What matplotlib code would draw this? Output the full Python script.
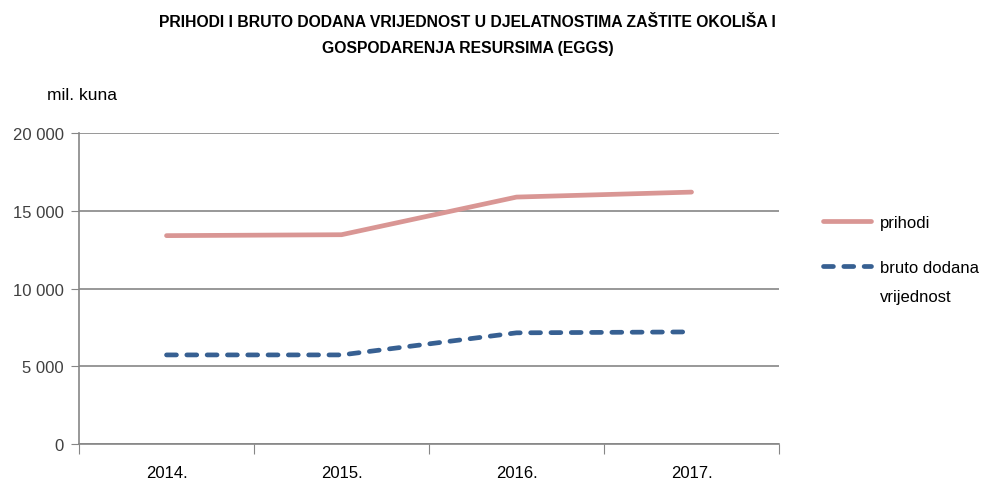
import matplotlib.pyplot as plt
from matplotlib.ticker import FuncFormatter, FixedLocator

years = ['2014.', '2015.', '2016.', '2017.']
prihodi = [13400, 13460, 15880, 16200]
bruto = [5730, 5730, 7150, 7210]

plt.rcParams['font.family'] = ['Liberation Sans', 'DejaVu Sans']

fig = plt.figure(figsize=(9.84, 4.81), dpi=100)
ax = fig.add_axes([0.0803, 0.0748, 0.7114, 0.6466])

x = list(range(len(years)))
ax.plot(x, prihodi, color='#d99694', lw=3.4, solid_capstyle='round', label='prihodi')
ax.plot(x, bruto, color='#376092', lw=3.4, ls=(0, (2.1, 2.2)), dash_capstyle='round',
        label='bruto dodana')

ax.set_xlim(-0.5, len(years) - 0.5)
ax.set_ylim(0, 20000)
ax.set_yticks(range(0, 20001, 5000))
ax.yaxis.set_major_formatter(FuncFormatter(lambda v, p: f'{int(v):,}'.replace(',', ' ')))
ax.xaxis.set_major_locator(FixedLocator([i - 0.5 for i in range(len(years) + 1)]))
ax.xaxis.set_minor_locator(FixedLocator(x))
ax.set_xticklabels([])
ax.set_xticklabels(years, minor=True)
ax.tick_params(axis='x', which='major', length=7, color='#868686', direction='out')
ax.tick_params(axis='x', which='minor', length=0, labelsize=12, pad=15)
ax.tick_params(axis='y', length=6, color='#868686', labelsize=12, labelcolor='#404040', pad=5)
ax.grid(axis='y', color='#868686', lw=1.2)
ax.set_axisbelow(True)
for s in ['top', 'right']:
    ax.spines[s].set_visible(False)
for s in ['left', 'bottom']:
    ax.spines[s].set_color('#868686')
    ax.spines[s].set_linewidth(1.2)

fig.text(0.475, 0.954, 'PRIHODI I BRUTO DODANA VRIJEDNOST U DJELATNOSTIMA ZAŠTITE OKOLIŠA I',
         ha='center', va='center', fontsize=11.3, fontweight='bold')
fig.text(0.475, 0.9, 'GOSPODARENJA RESURSIMA (EGGS)',
         ha='center', va='center', fontsize=11.3, fontweight='bold')
fig.text(0.048, 0.802, 'mil. kuna', ha='left', va='center', fontsize=12.5)

ax.legend(loc='upper left', bbox_to_anchor=(1.063, 0.737), frameon=False, fontsize=12,
          handlelength=2.9, handletextpad=0.5, labelspacing=1.8,
          borderpad=0, borderaxespad=0)
# second line of the legend label, as in the reference
fig.text(0.8945, 0.382, 'vrijednost', ha='left', va='center', fontsize=12)

fig.savefig('out.png', dpi=100)
